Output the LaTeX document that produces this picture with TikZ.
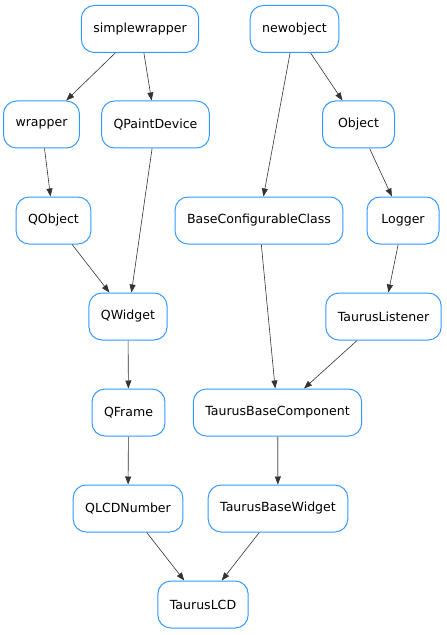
\documentclass[tikz,border=0pt]{standalone}
\usepackage{fontspec}
\setmainfont{DejaVu Sans}
\usetikzlibrary{arrows.meta}
\definecolor{nodeblue}{RGB}{51,153,255}
\begin{document}
\begin{tikzpicture}[x=1bp,y=-1bp,
  cls/.style={draw=nodeblue, line width=1bp, rounded corners=13bp, fill=white,
    minimum height=47bp, minimum width=72bp, inner xsep=12bp,
    font=\fontsize{12.6}{14}\selectfont},
  inh/.style={draw=black!80, line width=0.6bp, -{Triangle[length=8bp,width=6bp]}},
  inhgray/.style={draw=black!45, line width=1.3bp, -{Triangle[length=8bp,width=6bp,color=black!80,line width=0.6bp]}}
]
\useasboundingbox (0,0) rectangle (447,635);

\node[cls] (simplewrapper) at (140,29) {simplewrapper};
\node[cls] (newobject) at (294.5,29) {newobject};
\node[cls] (wrapper) at (41.5,124.5) {wrapper};
\node[cls] (qpaintdevice) at (155.5,124.5) {QPaintDevice};
\node[cls] (object) at (358.5,124.5) {Object};
\node[cls] (qobject) at (53.5,220.5) {QObject};
\node[cls] (baseconf) at (259,220.5) {BaseConfigurableClass};
\node[cls] (logger) at (403,220.5) {Logger};
\node[cls] (qwidget) at (128,316.5) {QWidget};
\node[cls] (listener) at (383.5,316.5) {TaurusListener};
\node[cls] (qframe) at (128.5,412.5) {QFrame};
\node[cls] (basecomp) at (277.5,412.5) {TaurusBaseComponent};
\node[cls] (qlcd) at (128,508.5) {QLCDNumber};
\node[cls] (basewidget) at (278,508.5) {TaurusBaseWidget};
\node[cls] (tauruslcd) at (203,604.5) {TaurusLCD};

\draw[inh] (simplewrapper) -- (wrapper);
\draw[inh] (simplewrapper) -- (qpaintdevice);
\draw[inh] (newobject) -- (baseconf);
\draw[inh] (newobject) -- (object);
\draw[inh] (wrapper) -- (qobject);
\draw[inh] (qpaintdevice) -- (qwidget);
\draw[inh] (qobject) -- (qwidget);
\draw[inh] (object) -- (logger);
\draw[inh] (logger) -- (listener);
\draw[inh] (baseconf) -- (basecomp);
\draw[inh] (listener) -- (basecomp);
\draw[inh] (qwidget) -- (qframe);
\draw[inh] (qframe) -- (qlcd);
\draw[inhgray] (basecomp) -- (basewidget);
\draw[inh] (qlcd) -- (tauruslcd);
\draw[inh] (basewidget) -- (tauruslcd);
\end{tikzpicture}
\end{document}
